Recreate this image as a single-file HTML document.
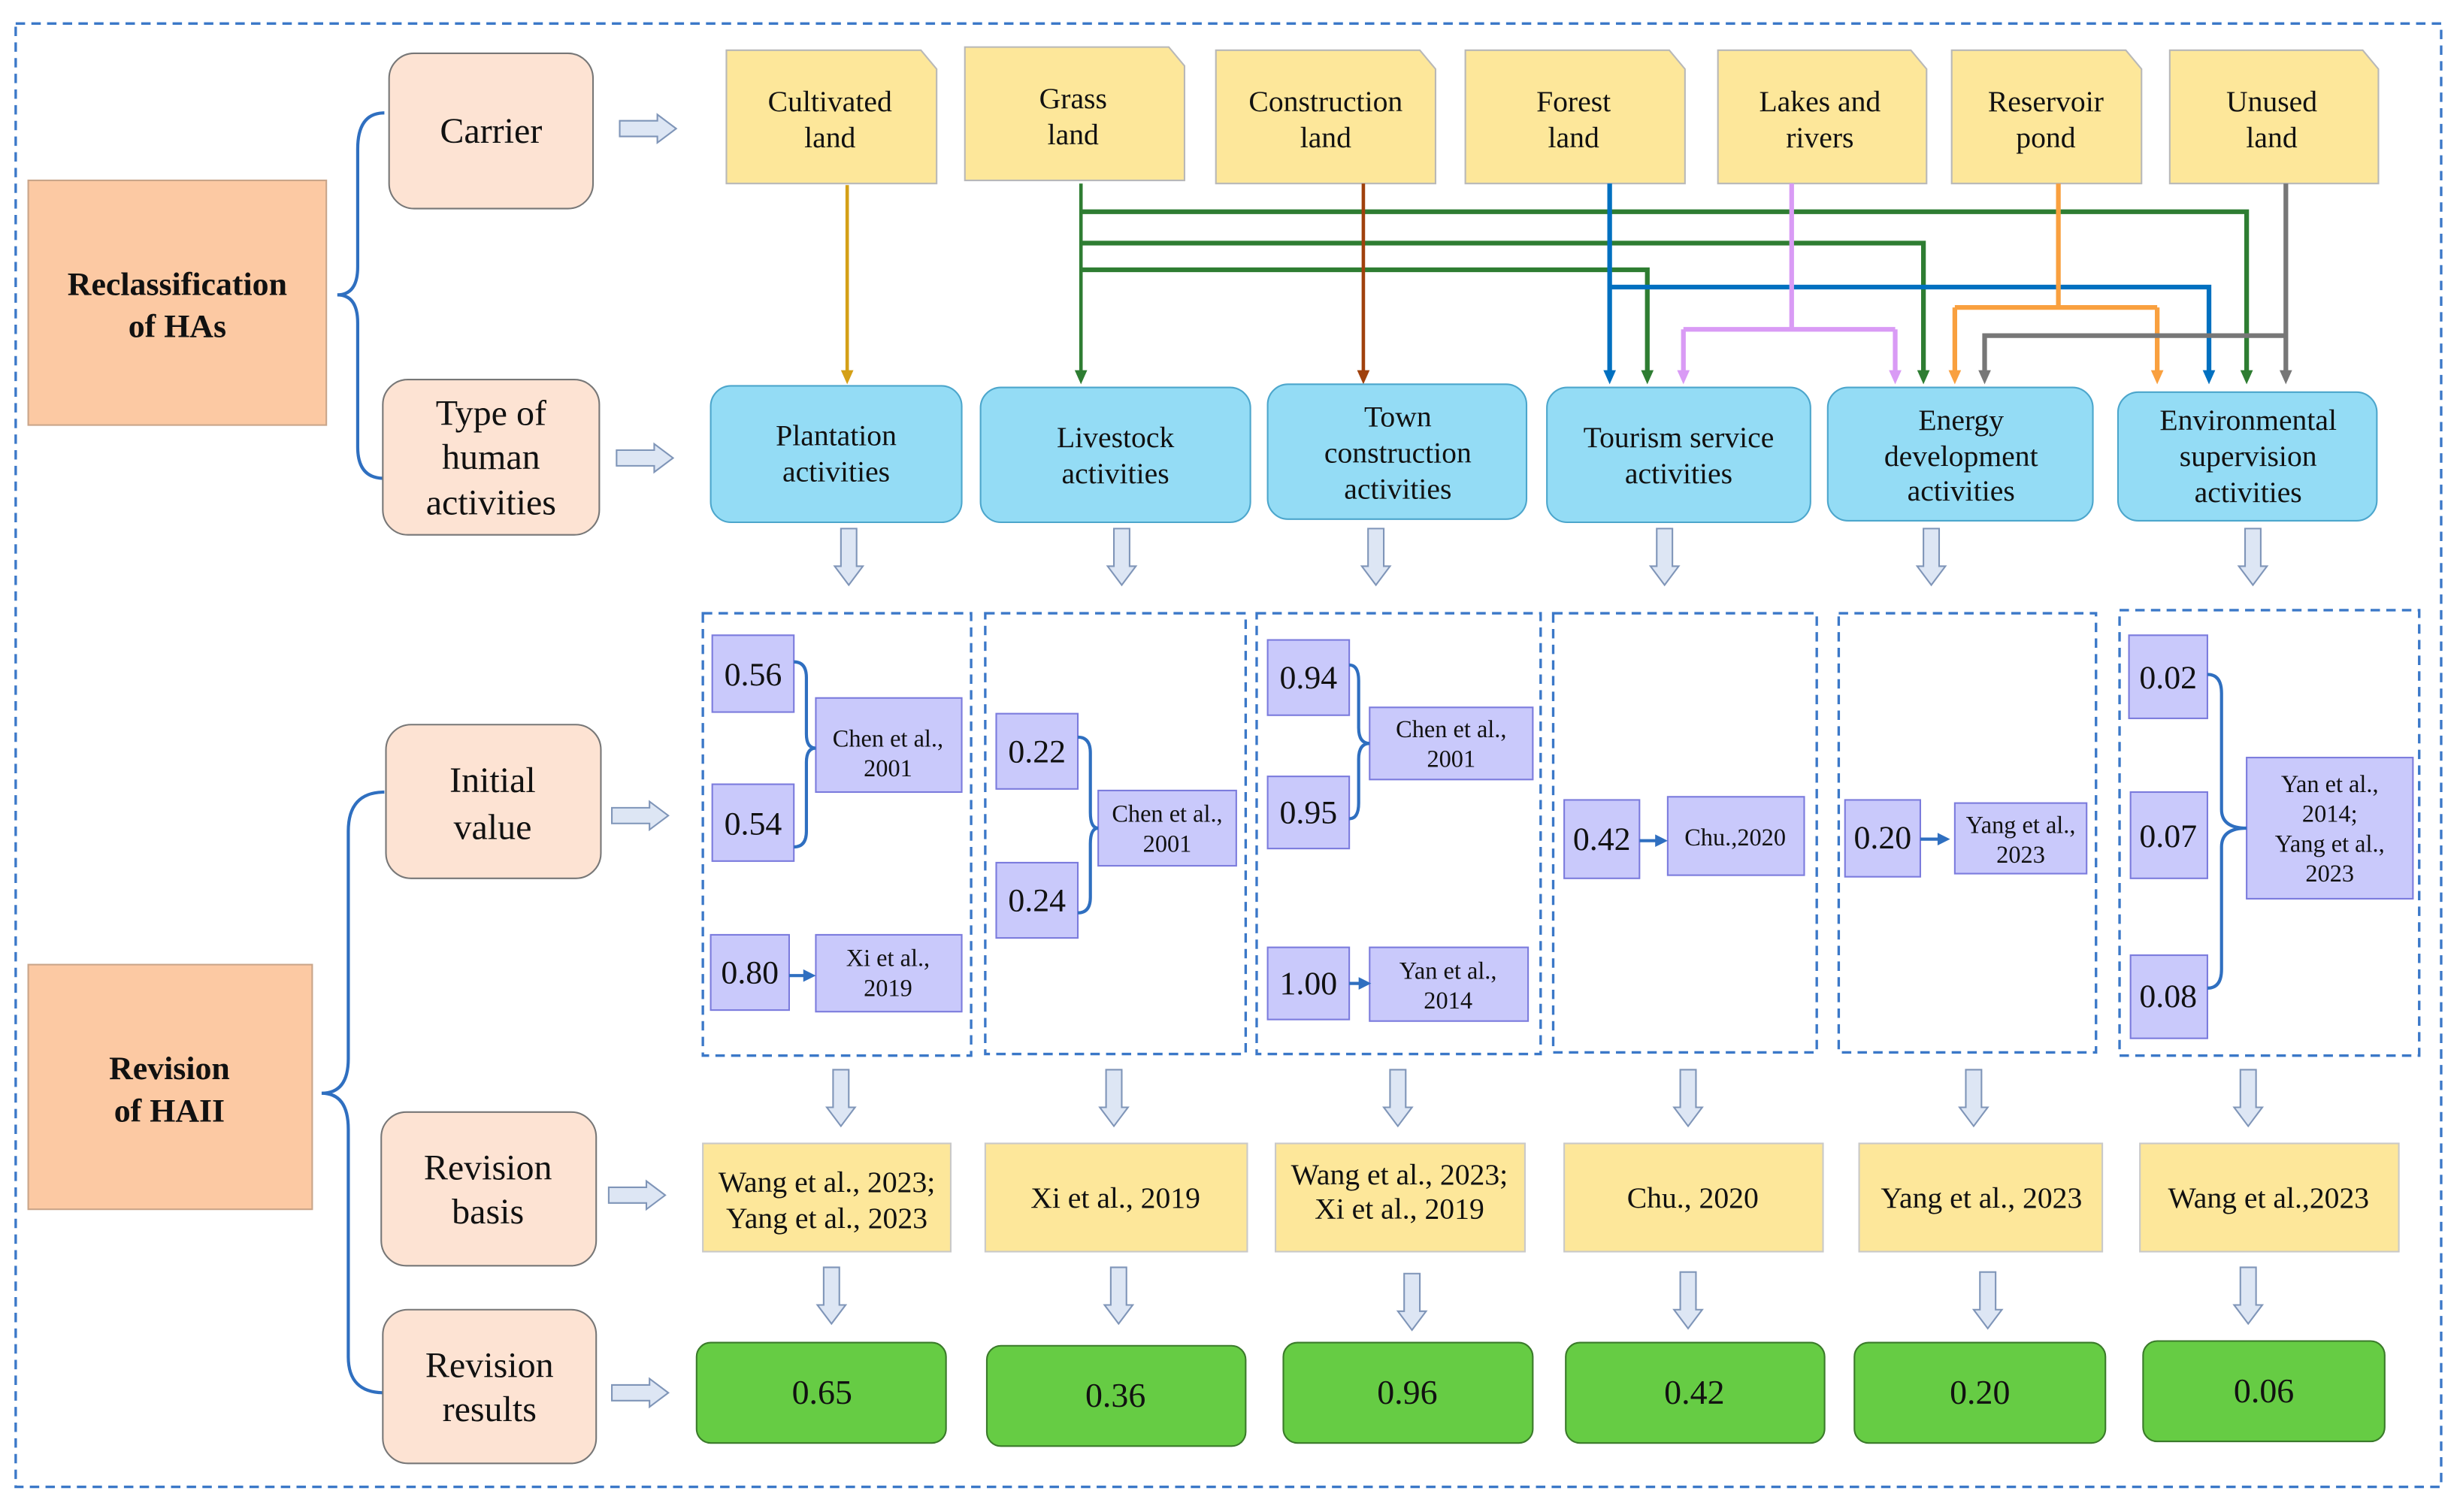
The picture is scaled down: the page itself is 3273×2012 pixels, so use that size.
<!DOCTYPE html>
<html><head><meta charset="utf-8"><style>
html,body{margin:0;padding:0;background:#fff}
svg{display:block;font-family:"Liberation Serif","DejaVu Serif",serif}
svg text{font-family:"Liberation Serif","DejaVu Serif",serif;fill:#111}
</style></head><body>
<svg width="3273" height="2012" viewBox="0 0 1568 964" preserveAspectRatio="none" xmlns="http://www.w3.org/2000/svg" font-family="Liberation Serif, DejaVu Serif, serif">
<defs>
<symbol id="ra" viewBox="0 0 36 18" width="36" height="18" overflow="visible"><polygon points="0,4 24,4 24,0 36,9 24,18 24,14 0,14" fill="#dde6f4" stroke="#7f95b8" stroke-width="1"/></symbol>
<symbol id="da" viewBox="0 0 18 36" width="18" height="36" overflow="visible"><polygon points="4,0 14,0 14,24 18,24 9,36 0,24 4,24" fill="#dde6f4" stroke="#7f95b8" stroke-width="1"/></symbol>
</defs>
<rect x="10" y="15" width="1546" height="933" fill="none" stroke="#3b78c8" stroke-width="1.6" stroke-dasharray="6,4"/>

<rect x="18" y="115" width="190" height="156" fill="#fcc9a3" stroke="#c9a58a"/>
<text x="113" y="188" font-size="21" font-weight="bold" text-anchor="middle">Reclassification</text>
<text x="113" y="215" font-size="21" font-weight="bold" text-anchor="middle">of HAs</text>
<rect x="18" y="615" width="181" height="156" fill="#fcc9a3" stroke="#c9a58a"/>
<text x="108" y="688" font-size="21" font-weight="bold" text-anchor="middle">Revision</text>
<text x="108" y="715" font-size="21" font-weight="bold" text-anchor="middle">of HAII</text>

<g fill="none" stroke="#2f6fc0" stroke-width="2">
<path d="M245,72 Q228,72 228,95 L228,170 Q228,188 215,188 Q228,188 228,206 L228,285 Q228,305 245,305"/>
<path d="M245,505 Q222,505 222,530 L222,675 Q222,697 205,697 Q222,697 222,720 L222,865 Q222,888 245,888"/>
</g>

<g fill="#fde3d3" stroke="#777" stroke-width="1">
<rect x="248" y="34" width="130" height="99" rx="16"/>
<rect x="244" y="242" width="138" height="99" rx="16"/>
<rect x="246" y="462" width="137" height="98" rx="16"/>
<rect x="243" y="709" width="137" height="98" rx="16"/>
<rect x="244" y="835" width="136" height="98" rx="16"/>
</g>
<g font-size="23" text-anchor="middle">
<text x="313" y="91">Carrier</text>
<text x="313" y="271">Type of</text><text x="313" y="299">human</text><text x="313" y="328">activities</text>
<text x="314" y="505">Initial</text><text x="314" y="535">value</text>
<text x="311" y="752">Revision</text><text x="311" y="780">basis</text>
<text x="312" y="878">Revision</text><text x="312" y="906">results</text>
</g>
<use href="#ra" x="395" y="73"/><use href="#ra" x="393" y="283"/><use href="#ra" x="390" y="511"/><use href="#ra" x="388" y="753"/><use href="#ra" x="390" y="879"/>

<g fill="#fde79a" stroke="#b8b8b8" stroke-width="1">
<path d="M463,32 H587 L597,44 V117 H463Z"/>
<path d="M615,30 H745 L755,42 V115 H615Z"/>
<path d="M775,32 H905 L915,44 V117 H775Z"/>
<path d="M934,32 H1064 L1074,44 V117 H934Z"/>
<path d="M1095,32 H1218 L1228,44 V117 H1095Z"/>
<path d="M1244,32 H1355 L1365,44 V117 H1244Z"/>
<path d="M1383,32 H1506 L1516,44 V117 H1383Z"/>
</g>
<g font-size="19" text-anchor="middle">
<text x="529" y="71">Cultivated</text><text x="529" y="94">land</text>
<text x="684" y="69">Grass</text><text x="684" y="92">land</text>
<text x="845" y="71">Construction</text><text x="845" y="94">land</text>
<text x="1003" y="71">Forest</text><text x="1003" y="94">land</text>
<text x="1160" y="71">Lakes and</text><text x="1160" y="94">rivers</text>
<text x="1304" y="71">Reservoir</text><text x="1304" y="94">pond</text>
<text x="1448" y="71">Unused</text><text x="1448" y="94">land</text>
</g>

<g fill="none" stroke-width="2.2">
<path d="M540,118 V238" stroke="#d4a017"/>
<path d="M689,117 V238" stroke="#2e7d32"/>
<path d="M689,135 H1432 V238 M689,155 H1226 V238 M689,172 H1050 V238" stroke="#2e7d32" stroke-width="3"/>
<path d="M869,117 V238" stroke="#a0410d"/>
<path d="M1026,117 V238 M1026,183 H1408 V238" stroke="#0070c0" stroke-width="3"/>
<path d="M1142,117 V210 M1073,210 H1208 M1073,210 V238 M1208,210 V238" stroke="#d99bf5" stroke-width="3"/>
<path d="M1312,117 V196 M1246,196 H1375 M1246,196 V238 M1375,196 V238" stroke="#f9a03f" stroke-width="3"/>
<path d="M1457,117 V238 M1457,214 H1265 V238" stroke="#777" stroke-width="3"/>
</g>
<g>
<path d="M536,236 h8 l-4,9z" fill="#d4a017"/>
<path d="M685,236 h8 l-4,9z" fill="#2e7d32"/>
<path d="M865,236 h8 l-4,9z" fill="#a0410d"/>
<path d="M1022,236 h8 l-4,9z" fill="#0070c0"/>
<path d="M1046,236 h8 l-4,9z" fill="#2e7d32"/>
<path d="M1069,236 h8 l-4,9z" fill="#d99bf5"/>
<path d="M1204,236 h8 l-4,9z" fill="#d99bf5"/>
<path d="M1222,236 h8 l-4,9z" fill="#2e7d32"/>
<path d="M1242,236 h8 l-4,9z" fill="#f9a03f"/>
<path d="M1261,236 h8 l-4,9z" fill="#777"/>
<path d="M1371,236 h8 l-4,9z" fill="#f9a03f"/>
<path d="M1404,236 h8 l-4,9z" fill="#0070c0"/>
<path d="M1428,236 h8 l-4,9z" fill="#2e7d32"/>
<path d="M1453,236 h8 l-4,9z" fill="#777"/>
</g>

<g fill="#94dcf5" stroke="#4ca6cc" stroke-width="1">
<rect x="453" y="246" width="160" height="87" rx="13"/>
<rect x="625" y="247" width="172" height="86" rx="13"/>
<rect x="808" y="245" width="165" height="86" rx="13"/>
<rect x="986" y="247" width="168" height="86" rx="13"/>
<rect x="1165" y="247" width="169" height="85" rx="13"/>
<rect x="1350" y="250" width="165" height="82" rx="13"/>
</g>
<g font-size="19" text-anchor="middle">
<text x="533" y="284">Plantation</text><text x="533" y="307">activities</text>
<text x="711" y="285">Livestock</text><text x="711" y="308">activities</text>
<text x="891" y="272">Town</text><text x="891" y="295">construction</text><text x="891" y="318">activities</text>
<text x="1070" y="285">Tourism service</text><text x="1070" y="308">activities</text>
<text x="1250" y="274">Energy</text><text x="1250" y="297">development</text><text x="1250" y="319">activities</text>
<text x="1433" y="274">Environmental</text><text x="1433" y="297">supervision</text><text x="1433" y="320">activities</text>
</g>
<use href="#da" x="532" y="337"/><use href="#da" x="706" y="337"/><use href="#da" x="868" y="337"/><use href="#da" x="1052" y="337"/><use href="#da" x="1222" y="337"/><use href="#da" x="1427" y="337"/>

<g fill="none" stroke="#3b78c8" stroke-width="1.6" stroke-dasharray="6,4">
<rect x="448" y="391" width="171" height="282"/>
<rect x="628" y="391" width="166" height="281"/>
<rect x="801" y="391" width="181" height="281"/>
<rect x="990" y="391" width="168" height="280"/>
<rect x="1172" y="391" width="164" height="280"/>
<rect x="1351" y="389" width="191" height="284"/>
</g>

<g fill="#c9c9fb" stroke="#7b7bdd" stroke-width="1">
<rect x="454" y="405" width="52" height="49"/><rect x="454" y="500" width="52" height="49"/><rect x="453" y="596" width="50" height="48"/>
<rect x="520" y="445" width="93" height="60"/><rect x="520" y="596" width="93" height="49"/>
<rect x="635" y="455" width="52" height="48"/><rect x="635" y="550" width="52" height="48"/><rect x="700" y="504" width="88" height="48"/>
<rect x="808" y="408" width="52" height="48"/><rect x="808" y="495" width="52" height="46"/><rect x="808" y="604" width="52" height="46"/>
<rect x="873" y="451" width="104" height="46"/><rect x="873" y="604" width="101" height="47"/>
<rect x="997" y="510" width="48" height="50"/><rect x="1063" y="508" width="87" height="50"/>
<rect x="1176" y="510" width="48" height="49"/><rect x="1246" y="512" width="84" height="45"/>
<rect x="1357" y="405" width="50" height="53"/><rect x="1358" y="505" width="49" height="55"/><rect x="1358" y="609" width="49" height="53"/>
<rect x="1432" y="483" width="106" height="90"/>
</g>
<g font-size="21" text-anchor="middle">
<text x="480" y="437">0.56</text><text x="480" y="532">0.54</text><text x="478" y="627">0.80</text>
<text x="661" y="486">0.22</text><text x="661" y="581">0.24</text>
<text x="834" y="439">0.94</text><text x="834" y="525">0.95</text><text x="834" y="634">1.00</text>
<text x="1021" y="542">0.42</text><text x="1200" y="541">0.20</text>
<text x="1382" y="439">0.02</text><text x="1382" y="540">0.07</text><text x="1382" y="642">0.08</text>
</g>
<g font-size="15.5" text-anchor="middle">
<text x="566" y="476">Chen et al.,</text><text x="566" y="495">2001</text>
<text x="566" y="616">Xi et al.,</text><text x="566" y="635">2019</text>
<text x="744" y="524">Chen et al.,</text><text x="744" y="543">2001</text>
<text x="925" y="470">Chen et al.,</text><text x="925" y="489">2001</text>
<text x="923" y="624">Yan et al.,</text><text x="923" y="643">2014</text>
<text x="1106" y="539">Chu.,2020</text>
<text x="1288" y="531">Yang et al.,</text><text x="1288" y="550">2023</text>
<text x="1485" y="505">Yan et al.,</text><text x="1485" y="524">2014;</text><text x="1485" y="543">Yang et al.,</text><text x="1485" y="562">2023</text>
</g>
<g fill="none" stroke="#2f6fc0" stroke-width="2">
<path d="M506,422 Q514,422 514,432 V468 Q514,477 520,477 Q514,477 514,486 V530 Q514,540 506,540"/>
<path d="M687,470 Q695,470 695,480 V518 Q695,528 700,528 Q695,528 695,538 V572 Q695,582 687,582"/>
<path d="M860,424 Q866,424 866,434 V464 Q866,474 873,474 Q866,474 866,484 V512 Q866,522 860,522"/>
<path d="M1407,430 Q1416,430 1416,442 V516 Q1416,528 1432,528 Q1416,528 1416,540 V618 Q1416,630 1407,630"/>
<path d="M503,622 H514 M860,627 H868 M1045,536 H1056 M1224,535 H1236"/>
</g>
<g fill="#2f6fc0">
<path d="M512,618 l8,4 l-8,4z"/><path d="M866,623 l8,4 l-8,4z"/><path d="M1055,532 l8,4 l-8,4z"/><path d="M1235,531 l8,4 l-8,4z"/>
</g>
<use href="#da" x="527" y="682"/><use href="#da" x="701" y="682"/><use href="#da" x="882" y="682"/><use href="#da" x="1067" y="682"/><use href="#da" x="1249" y="682"/><use href="#da" x="1424" y="682"/>

<g fill="#fde79a" stroke="#c9c9c9" stroke-width="1">
<rect x="448" y="729" width="158" height="69"/><rect x="628" y="729" width="167" height="69"/><rect x="813" y="729" width="159" height="69"/>
<rect x="997" y="729" width="165" height="69"/><rect x="1185" y="729" width="155" height="69"/><rect x="1364" y="729" width="165" height="69"/>
</g>
<g font-size="19" text-anchor="middle">
<text x="527" y="760">Wang et al., 2023;</text><text x="527" y="783">Yang et al., 2023</text>
<text x="711" y="770">Xi et al., 2019</text>
<text x="892" y="755">Wang et al., 2023;</text><text x="892" y="777">Xi et al., 2019</text>
<text x="1079" y="770">Chu., 2020</text>
<text x="1263" y="770">Yang et al., 2023</text>
<text x="1446" y="770">Wang et al.,2023</text>
</g>
<use href="#da" x="521" y="808"/><use href="#da" x="704" y="808"/><use href="#da" x="891" y="812"/><use href="#da" x="1067" y="811"/><use href="#da" x="1258" y="811"/><use href="#da" x="1424" y="808"/>

<g fill="#66cc44" stroke="#3a7a2a" stroke-width="1">
<rect x="444" y="856" width="159" height="64" rx="9"/><rect x="629" y="858" width="165" height="64" rx="9"/><rect x="818" y="856" width="159" height="64" rx="9"/>
<rect x="998" y="856" width="165" height="64" rx="9"/><rect x="1182" y="856" width="160" height="64" rx="9"/><rect x="1366" y="855" width="154" height="64" rx="9"/>
</g>
<g font-size="22" text-anchor="middle">
<text x="524" y="895">0.65</text><text x="711" y="897">0.36</text><text x="897" y="895">0.96</text>
<text x="1080" y="895">0.42</text><text x="1262" y="895">0.20</text><text x="1443" y="894">0.06</text>
</g>
</svg>
</body></html>
